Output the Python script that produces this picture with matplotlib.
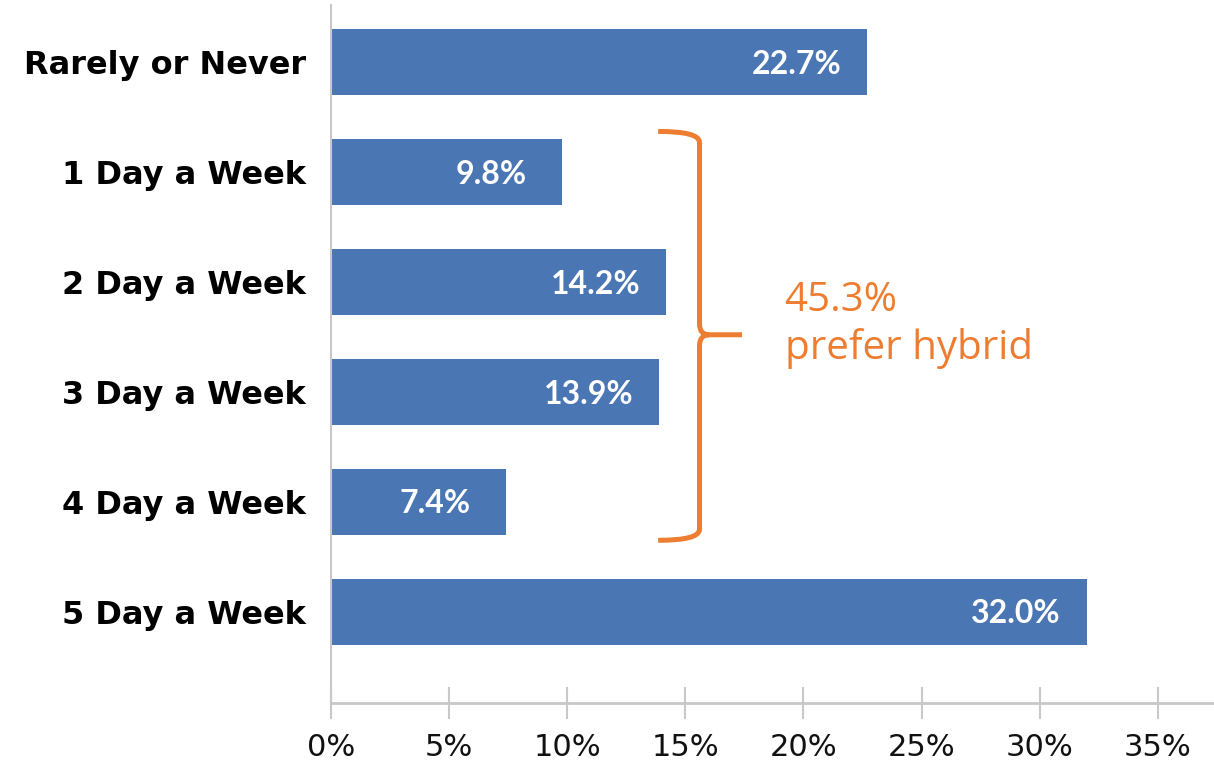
import matplotlib
matplotlib.use("Agg")
import matplotlib.pyplot as plt
from matplotlib.path import Path
from matplotlib.patches import PathPatch

categories = ["Rarely or Never", "1 Day a Week", "2 Day a Week", "3 Day a Week", "4 Day a Week", "5 Day a Week"]
values = [22.7, 9.8, 14.2, 13.9, 7.4, 32.0]
value_labels = ["22.7%", "9.8%", "14.2%", "13.9%", "7.4%", "32.0%"]
xticks = [0, 5, 10, 15, 20, 25, 30, 35]
xtick_labels = ["0%", "5%", "10%", "15%", "20%", "25%", "30%", "35%"]
annotation_text = "45.3%\nprefer hybrid"

BLUE = "#4A76B4"
ORANGE = "#ED7D31"
GRAY = "#C8C8C8"

fig = plt.figure(figsize=(12.14, 7.63), dpi=100)
ax = fig.add_axes([331/1214, 1 - 703/763, 1 - 331/1214, (703 - 5)/763])

ypos = list(range(len(categories)))
ax.barh(ypos, values, height=0.6, color=BLUE)
ax.set_ylim(5.83, -0.52)
ax.set_xlim(0, 37.38)

for y, v, lab in zip(ypos, values, value_labels):
    ax.annotate(lab, xy=(v, y), xytext=(-51, -1.5), textcoords="offset points",
                ha="center", va="center", color="white", fontsize=23,
                fontweight="bold", family="Lato")

ax.set_yticks(ypos)
ax.set_yticklabels(categories, fontsize=23, fontweight="bold", family="DejaVu Sans", color="black")
ax.tick_params(axis="y", length=0, pad=18)

ax.set_xticks(xticks)
ax.set_xticklabels(xtick_labels, fontsize=22, family="DejaVu Sans", color="#111111")
ax.tick_params(axis="x", direction="inout", length=23, width=1.5, color=GRAY, pad=10)

for s in ["top", "right"]:
    ax.spines[s].set_visible(False)
ax.spines["left"].set_color(GRAY)
ax.spines["left"].set_linewidth(1.5)
ax.spines["bottom"].set_color(GRAY)
ax.spines["bottom"].set_linewidth(2)

# brace
xl, xv, xt = 13.85, 15.6, 17.4
yt, ym, yb = 0.63, 2.48, 4.35
verts = [
    (xl, yt), (xv, yt), (xv, yt + 0.1),
    (xv, ym - 0.1), (xv, ym), (xv + 0.4, ym),
    (xt, ym),
    (xv + 0.4, ym), (xv, ym), (xv, ym + 0.1),
    (xv, yb - 0.1), (xv, yb), (xl, yb),
]
codes = [
    Path.MOVETO, Path.CURVE3, Path.CURVE3,
    Path.LINETO, Path.CURVE3, Path.CURVE3,
    Path.LINETO,
    Path.MOVETO, Path.CURVE3, Path.CURVE3,
    Path.LINETO, Path.CURVE3, Path.CURVE3,
]
ax.add_patch(PathPatch(Path(verts, codes), fill=False, edgecolor=ORANGE,
                       linewidth=3.6, capstyle="butt", joinstyle="round"))

ax.text(19.2, 2.39, annotation_text, color=ORANGE, fontsize=29, family="Open Sans",
        ha="left", va="center", linespacing=1.25)

fig.savefig("out.png", dpi=100)
